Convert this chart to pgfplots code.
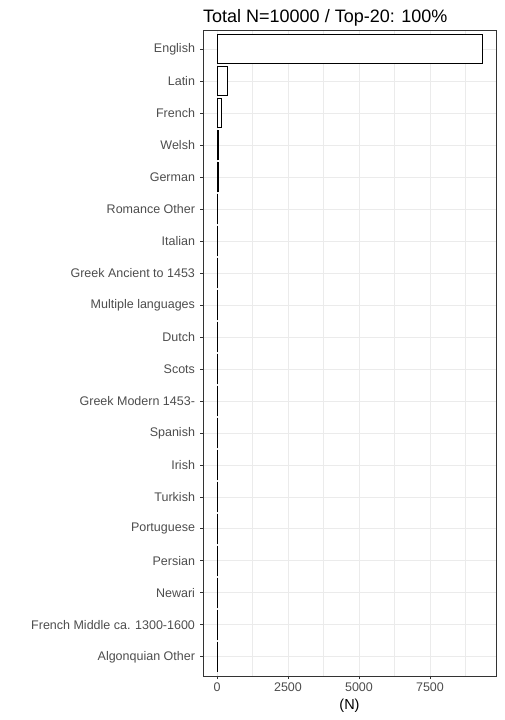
\documentclass[border=0pt]{standalone}
\usepackage{pgfplots}
\pgfplotsset{compat=1.18}
\usepackage{fontspec}
\setmainfont{Liberation Sans}
\definecolor{gridc}{HTML}{EBEBEB}
\definecolor{axc}{HTML}{333333}
\definecolor{tickc}{HTML}{4D4D4D}
\begin{document}
\begin{tikzpicture}[x=1pt,y=1pt]
\path[use as bounding box] (0,0) rectangle (504,720);
\begin{axis}[
  at={(203pt,44pt)}, anchor=south west,
  scale only axis, width=293pt, height=646pt,
  xmin=-493, xmax=9824,
  ymin=0.4, ymax=20.6, y dir=reverse,
  xtick={0,2500,5000,7500},
  minor xtick={1250,3750,6250,8750},
  ytick={1,...,20},
  yticklabels={English,Latin,French,Welsh,German,Romance Other,Italian,Greek Ancient to 1453,Multiple languages,Dutch,Scots,Greek Modern 1453-,Spanish,Irish,Turkish,Portuguese,Persian,Newari,French Middle ca. 1300-1600,Algonquian Other},
  /pgf/number format/assume math mode=true,
  /pgf/number format/1000 sep={},
  xmajorgrids, xminorgrids, ymajorgrids,
  major grid style={gridc, line width=0.8pt},
  minor grid style={gridc, line width=0.4pt},
  axis line style={axc, line width=0.8pt},
  tick align=outside,
  major tick length=3pt,
  minor tick length=0pt,
  tick style={axc, line width=0.8pt},
  xtick pos=bottom, ytick pos=left,
  ticklabel style={font=\fontsize{12.5}{14}\selectfont, text=tickc},
  yticklabel style={xshift=-1.5pt},
  xticklabel style={yshift=0pt},
  xlabel={(N)},
  xlabel style={font=\fontsize{14.5}{16}\selectfont, yshift=-1pt},
  title={Total N=10000 / Top-20: 100\%},
  title style={font=\fontsize{18}{20}\selectfont, anchor=base west, at={(0,1)}, inner sep=0pt, xshift=0pt, yshift=2pt},
]
\addplot[xbar, bar width=28.8pt, fill=white, draw=black, line width=0.8pt] coordinates {
(9350,1) (370,2) (160,3) (50,4) (45,5) (4,6) (3,7) (3,8) (2,9) (2,10)
(2,11) (2,12) (1,13) (1,14) (1,15) (1,16) (1,17) (1,18) (1,19) (1,20)
};
\end{axis}
\end{tikzpicture}
\end{document}
